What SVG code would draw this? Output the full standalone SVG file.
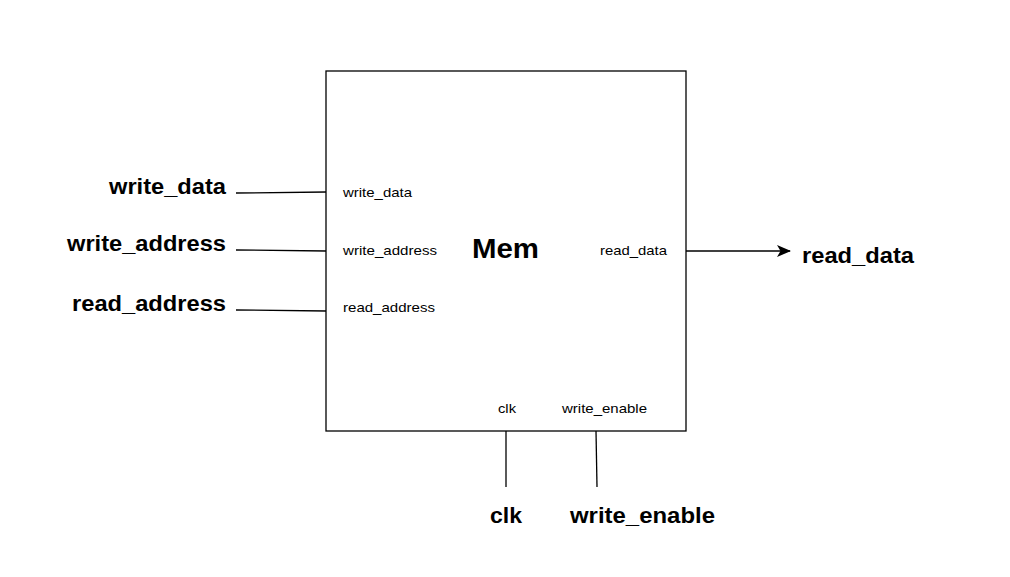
<svg xmlns="http://www.w3.org/2000/svg" width="1010" height="577" viewBox="0 0 1010 577">
<defs>
<style>
.big{font-family:"Liberation Sans",Arial,sans-serif;font-size:21.5px;font-weight:bold;fill:#000}
.sm{font-family:"Liberation Sans",Arial,sans-serif;font-size:13.5px;fill:#000}
.ln{stroke:#000;stroke-width:1.3;fill:none}
</style>
<marker id="arr" markerWidth="14" markerHeight="12" refX="13" refY="6" orient="auto" markerUnits="userSpaceOnUse">
<path d="M0,0 L14,6 L0,12 L3.5,6 Z" fill="#000"/>
</marker>
</defs>
<rect width="1010" height="577" fill="#fff"/>
<g id="mem">
<rect x="326" y="71" width="360" height="360" fill="#fff" stroke="#000" stroke-width="1.3"/>
<text x="472" y="258" font-family="Liberation Sans,Arial,sans-serif" font-size="27" font-weight="bold" textLength="67" lengthAdjust="spacingAndGlyphs">Mem</text>
<text class="sm" x="343" y="197" textLength="69" lengthAdjust="spacingAndGlyphs">write_data</text>
<text class="sm" x="343" y="255" textLength="94" lengthAdjust="spacingAndGlyphs">write_address</text>
<text class="sm" x="343" y="312" textLength="92" lengthAdjust="spacingAndGlyphs">read_address</text>
<text class="sm" x="600" y="255" textLength="67" lengthAdjust="spacingAndGlyphs">read_data</text>
<text class="sm" x="498" y="413" textLength="18" lengthAdjust="spacingAndGlyphs">clk</text>
<text class="sm" x="562" y="413" textLength="85" lengthAdjust="spacingAndGlyphs">write_enable</text>
</g>
<g id="labels">
<text class="big" x="109" y="194" textLength="117" lengthAdjust="spacingAndGlyphs">write_data</text>
<text class="big" x="67" y="251" textLength="159" lengthAdjust="spacingAndGlyphs">write_address</text>
<text class="big" x="72" y="311" textLength="154" lengthAdjust="spacingAndGlyphs">read_address</text>
<text class="big" x="802" y="263" textLength="112" lengthAdjust="spacingAndGlyphs">read_data</text>
<text class="big" x="490" y="523" textLength="32" lengthAdjust="spacingAndGlyphs">clk</text>
<text class="big" x="570" y="523" textLength="145" lengthAdjust="spacingAndGlyphs">write_enable</text>
</g>
<g id="connectors">
<path class="ln" d="M236,193 L326,192"/>
<path class="ln" d="M236,250 L326,251"/>
<path class="ln" d="M236,310 L326,311"/>
<path class="ln" d="M686,251 L790,251" marker-end="url(#arr)"/>
<path class="ln" d="M506,431 L506,487"/>
<path class="ln" d="M596,431 L597,487"/>
</g>
</svg>
